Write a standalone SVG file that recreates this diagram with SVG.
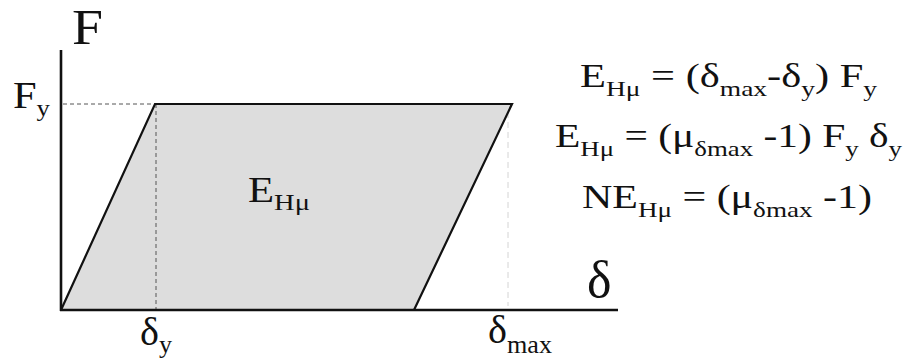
<svg xmlns="http://www.w3.org/2000/svg" width="904" height="362" viewBox="0 0 904 362">
<style>
text{fill:#111}
.ax{stroke:#111;stroke-width:2.6;fill:none}
.ln{stroke:#111;stroke-width:2.2;fill:none}
.dash{stroke:#555;stroke-width:1;stroke-dasharray:4 3;fill:none}
.faint{stroke:#d4d4d4;stroke-width:1;stroke-dasharray:6 4;fill:none}
</style>
<rect width="904" height="362" fill="#ffffff"/>
<g id="region">
<polygon points="61,310 155,104 512,104 414,310" fill="#dddddd"/>
</g>
<g id="guides">
<line class="dash" x1="63" y1="104" x2="155" y2="104"/>
<line class="dash" x1="156" y1="104" x2="156" y2="309"/>
<line class="faint" x1="508" y1="112" x2="508" y2="306"/>
</g>
<g id="curve">
<polyline class="ln" points="61,310 155,104 512,104 414,310"/>
</g>
<g id="axes">
<line class="ax" x1="61" y1="50" x2="61" y2="311"/>
<line class="ax" x1="60" y1="310" x2="618" y2="310"/>
</g>
<g id="labels" font-family="Liberation Serif, Times New Roman, serif">
<text x="72" y="44" font-size="50" textLength="31" lengthAdjust="spacingAndGlyphs">F</text>
<text x="13" y="108" font-size="38" textLength="37" lengthAdjust="spacingAndGlyphs">F<tspan font-size="24" dy="8">y</tspan></text>
<text x="248" y="202" font-size="36" textLength="62" lengthAdjust="spacingAndGlyphs">E<tspan font-size="24" dy="8">Hμ</tspan></text>
<text x="587" y="297" font-size="52">δ</text>
<text x="140" y="345" font-size="40" textLength="32" lengthAdjust="spacingAndGlyphs">δ<tspan font-size="26" dy="8">y</tspan></text>
<text x="488" y="343" font-size="40" textLength="64" lengthAdjust="spacingAndGlyphs">δ<tspan font-size="26" dy="10">max</tspan></text>
</g>
<g id="equations" font-family="Liberation Serif, Times New Roman, serif" font-size="34">
<text x="580" y="87" textLength="297" lengthAdjust="spacingAndGlyphs">E<tspan font-size="22" dy="9">Hμ</tspan><tspan dy="-9"> = (δ</tspan><tspan font-size="22" dy="9">max</tspan><tspan dy="-9">-δ</tspan><tspan font-size="22" dy="9">y</tspan><tspan dy="-9">) F</tspan><tspan font-size="22" dy="9">y</tspan></text>
<text x="555" y="147" textLength="347" lengthAdjust="spacingAndGlyphs">E<tspan font-size="22" dy="9">Hμ</tspan><tspan dy="-9"> = (μ</tspan><tspan font-size="22" dy="9">δmax</tspan><tspan dy="-9"> -1) F</tspan><tspan font-size="22" dy="9">y</tspan><tspan dy="-9"> δ</tspan><tspan font-size="22" dy="9">y</tspan></text>
<text x="582" y="208" textLength="290" lengthAdjust="spacingAndGlyphs">NE<tspan font-size="22" dy="9">Hμ</tspan><tspan dy="-9"> = (μ</tspan><tspan font-size="22" dy="9">δmax</tspan><tspan dy="-9"> -1)</tspan></text>
</g>
</svg>
